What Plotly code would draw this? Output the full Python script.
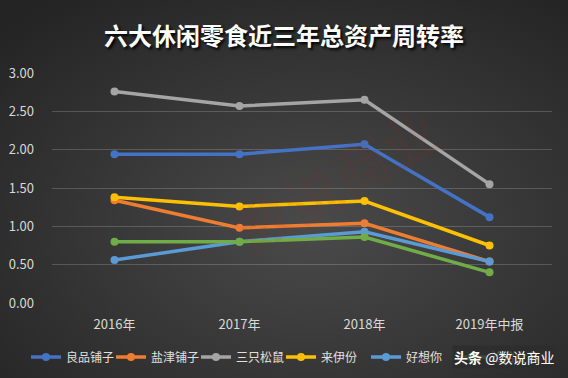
import base64
import plotly.graph_objects as go

categories = ["2016年", "2017年", "2018年", "2019年中报"]
series_names = ["良品铺子", "盐津铺子", "三只松鼠", "来伊份", "好想你", "洽洽食品"]
liangpin = [1.94, 1.94, 2.07, 1.12]
yanjin = [1.34, 0.98, 1.04, 0.54]
sanzhi = [2.76, 2.57, 2.65, 1.55]
laiyifen = [1.38, 1.26, 1.33, 0.75]
haoxiangni = [0.56, 0.80, 0.93, 0.54]
qiaqia = [0.80, 0.80, 0.86, 0.40]
series_values = [liangpin, yanjin, sanzhi, laiyifen, haoxiangni, qiaqia]
colors = ["#4472C4", "#ED7D31", "#A5A5A5", "#FFC000", "#5B9BD5", "#70AD47"]
y_ticks = [0, 0.5, 1.0, 1.5, 2.0, 2.5, 3.0]

svg = """<svg xmlns='http://www.w3.org/2000/svg' width='568' height='378'>
<defs><radialGradient id='g' cx='55%' cy='60%' r='75%'>
<stop offset='0%' stop-color='#4a4a4a'/><stop offset='100%' stop-color='#242424'/>
</radialGradient></defs>
<rect width='568' height='378' fill='url(#g)'/></svg>"""
bg_uri = "data:image/svg+xml;base64," + base64.b64encode(svg.encode()).decode()

L, R, T, B = 52, 16, 73, 75
PW, PH = 568 - L - R, 378 - T - B

fig = go.Figure()
for name, vals, col in zip(series_names, series_values, colors):
    fig.add_trace(go.Scatter(
        x=categories, y=vals, name=name, mode="lines+markers",
        line=dict(color=col, width=3.5),
        marker=dict(color=col, size=8),
    ))

font_family = "Noto Sans CJK SC, Noto Sans, sans-serif"
fig.update_layout(
    width=568, height=378,
    margin=dict(l=L, r=R, t=T, b=B, autoexpand=False),
    paper_bgcolor="#333333",
    plot_bgcolor="rgba(0,0,0,0)",
    font=dict(family=font_family, color="#d9d9d9", size=13),
    title=dict(text="<b>六大休闲零食近三年总资产周转率</b>", x=0.5, xanchor="center",
               y=1 - 37 / 378, yanchor="middle", yref="container",
               font=dict(size=24, color="#ffffff", family=font_family,
                         shadow="2px 2px 3px #000000")),
    xaxis=dict(type="category", range=[-0.5, 3.5], showgrid=False, zeroline=False,
               showline=False, ticks="", ticklabelstandoff=12,
               tickfont=dict(size=13, color="#d9d9d9")),
    yaxis=dict(range=[0, 3.0], tickvals=y_ticks, tickformat=".2f",
               gridcolor="rgba(255,255,255,0.18)", gridwidth=1, zeroline=False,
               showline=False, ticks="", ticklabelstandoff=17,
               tickfont=dict(size=13, color="#d9d9d9")),
    legend=dict(orientation="h", xref="paper", yref="paper",
                x=(26 - L) / PW, xanchor="left", y=(303 - 357) / PH, yanchor="middle",
                font=dict(size=12, color="#e0e0e0"), itemwidth=30,
                entrywidth=40, entrywidthmode="pixels",
                tracegroupgap=0, bgcolor="rgba(0,0,0,0)"),
    images=[dict(source=bg_uri, xref="paper", yref="paper",
                 x=-L / PW, y=1 + T / PH, sizex=568 / PW, sizey=378 / PH,
                 xanchor="left", yanchor="top", layer="below", sizing="stretch")],
    showlegend=True,
)

fig.add_annotation(text="<b>数说商业</b>", xref="paper", yref="paper",
                   x=(215 - L) / PW, y=(303 - 178) / PH,
                   showarrow=False, textangle=-30,
                   font=dict(size=56, color="rgba(150,40,40,0.08)", family=font_family))
fig.add_annotation(text="<b>头条</b> @数说商业", xref="paper", yref="paper",
                   x=(452 - L) / PW, y=(303 - 357) / PH,
                   xanchor="left", yanchor="middle", showarrow=False,
                   bgcolor="rgba(45,45,45,0.8)",
                   font=dict(size=14, color="#ffffff", family=font_family))

fig.write_html("out.html", config={"displayModeBar": False},
               post_script="document.body.style.margin='0';")
